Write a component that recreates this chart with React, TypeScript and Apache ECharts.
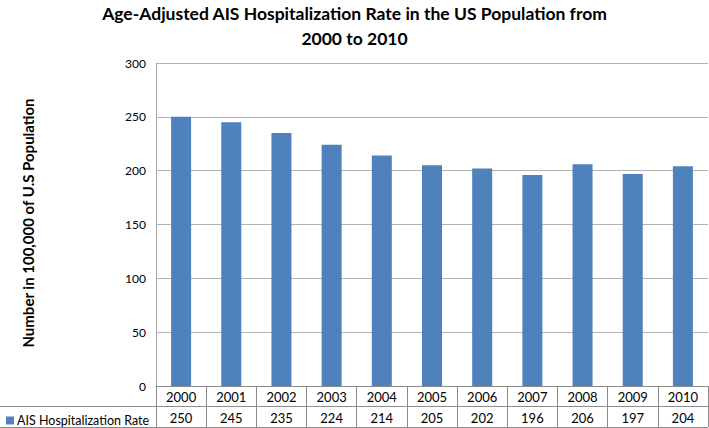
import React, { useEffect, useRef } from "react";
import * as echarts from "echarts";

const years = ["2000", "2001", "2002", "2003", "2004", "2005", "2006", "2007", "2008", "2009", "2010"];
const rates = [250, 245, 235, 224, 214, 205, 202, 196, 206, 197, 204];
const seriesName = "AIS Hospitalization Rate";
const titleText = "Age-Adjusted AIS Hospitalization Rate in the US Population from\n2000 to 2010";
const yTitle = "Number in 100,000 of U.S Population";

const FONT = "Lato, 'Open Sans', sans-serif";
const TABLE_LINE = "#8c8c8c";

export default function App() {
  const ref = useRef<HTMLDivElement>(null);
  useEffect(() => {
    if (!ref.current) return;
    const chart = echarts.init(ref.current, null, { renderer: "svg" });
    chart.setOption({
      animation: false,
      backgroundColor: "#ffffff",
      textStyle: { fontFamily: FONT, color: "#000" },
      title: {
        text: titleText,
        left: "center",
        top: -4,
        textStyle: { fontFamily: FONT, fontSize: 17.5, fontWeight: "bold", color: "#000", lineHeight: 25 },
      },
      legend: {
        data: [seriesName],
        left: 1,
        top: 409,
        itemWidth: 8,
        itemHeight: 8,
        icon: "rect",
        itemGap: 4,
        textStyle: { fontFamily: FONT, fontSize: 12.5, color: "#000", padding: [0, 0, 0, -2] },
      },
      grid: { left: 156, right: 1, top: 63, bottom: 42, containLabel: false },
      xAxis: [
        {
          type: "category",
          data: years,
          position: "bottom",
          axisLine: { show: true, lineStyle: { color: TABLE_LINE, width: 1 } },
          axisTick: { show: true, length: 41, interval: 0, alignWithLabel: false, lineStyle: { color: TABLE_LINE } },
          axisLabel: { interval: 0, margin: 4, fontSize: 13, fontFamily: FONT, color: "#000" },
          splitLine: { show: false },
        },
        {
          type: "category",
          data: years,
          position: "bottom",
          offset: 20,
          axisLine: { show: false },
          axisTick: { show: false },
          axisLabel: {
            interval: 0,
            margin: 5,
            fontSize: 13,
            fontFamily: FONT,
            color: "#000",
            formatter: (_v: string, i: number) => String(rates[i]),
          },
        },
      ],
      yAxis: {
        type: "value",
        min: 0,
        max: 300,
        interval: 50,
        axisLine: { show: true, lineStyle: { color: "#a6a6a6" } },
        axisTick: { show: false },
        axisLabel: { margin: 10, fontSize: 12, fontFamily: FONT, color: "#000" },
        splitLine: { show: true, lineStyle: { color: "#b3b3b3", width: 1 } },
      },
      series: [
        {
          name: seriesName,
          type: "bar",
          data: rates,
          barWidth: 20,
          itemStyle: { color: "#4f81bd" },
        },
      ],
      graphic: [
        {
          type: "text",
          x: 28,
          y: 223,
          rotation: Math.PI / 2,
          style: {
            text: yTitle,
            fontFamily: FONT,
            fontSize: 15,
            fontWeight: "bold",
            fill: "#000",
            align: "center",
            verticalAlign: "middle",
          },
        },
        {
          type: "line",
          shape: { x1: 0, y1: 406.5, x2: 708, y2: 406.5 },
          style: { stroke: TABLE_LINE, lineWidth: 1 },
        },
        {
          type: "line",
          shape: { x1: 0, y1: 427.5, x2: 708, y2: 427.5 },
          style: { stroke: TABLE_LINE, lineWidth: 1 },
        },
      ],
    });
    return () => chart.dispose();
  }, []);
  return <div ref={ref} style={{ width: 709, height: 428, position: "absolute", left: 0, top: 0 }} />;
}
